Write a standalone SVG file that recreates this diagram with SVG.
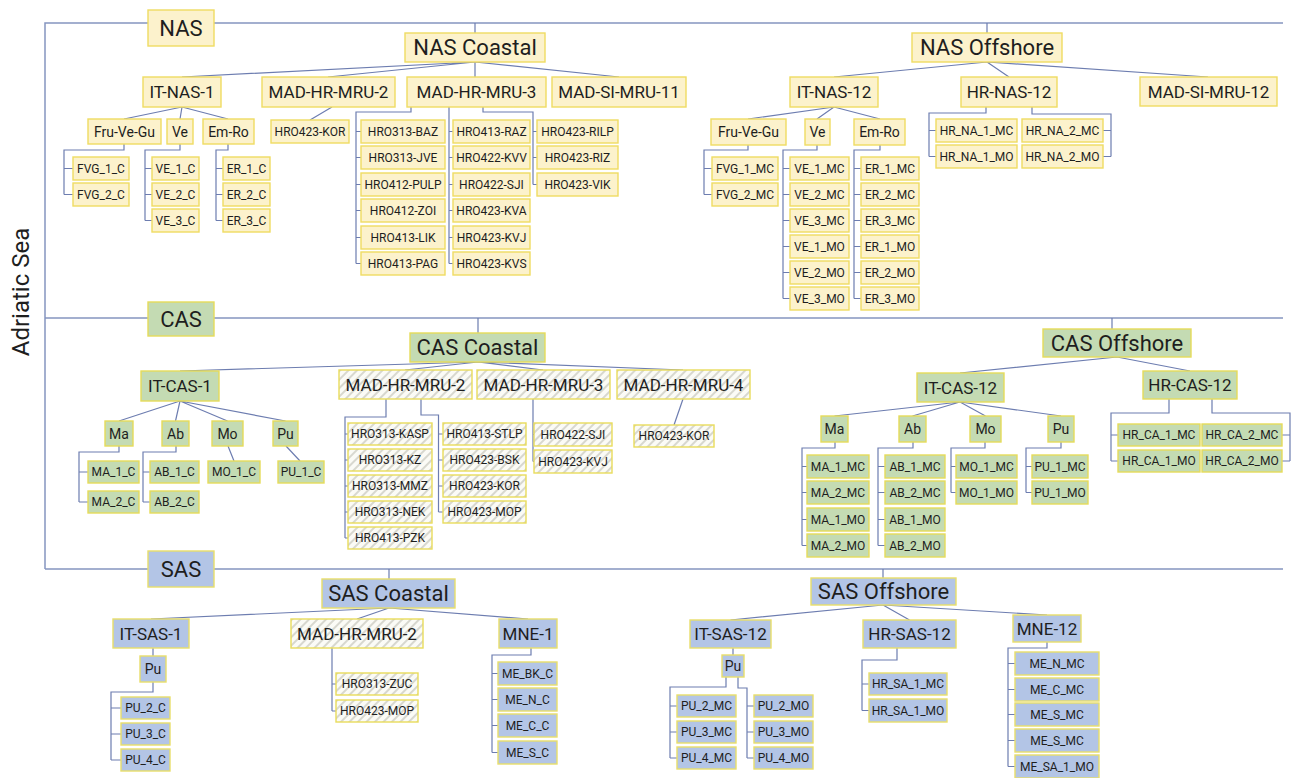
<svg xmlns="http://www.w3.org/2000/svg" width="1293" height="778" viewBox="0 0 1293 778">
<style>
svg.n{overflow:visible}
.y{fill:#fcf2cc;stroke:#efdc62;stroke-width:1.4}
.g{fill:#c4dbb3;stroke:#e6dc5a;stroke-width:1.4}
.b{fill:#b3c5e6;stroke:#e8de6a;stroke-width:1.4}
.h{fill:url(#hatch);stroke:#e8dc5c;stroke-width:1.4}
text{font-family:Roboto,"Liberation Sans",sans-serif;fill:#1e1e1e;text-anchor:middle;dominant-baseline:central}
.t1{font-size:22px}.t2{font-size:17px}.t3{font-size:14px}.t4{font-size:12px}
.c{fill:none;stroke:#6d7db0;stroke-width:1.2}
.f{fill:none;stroke:#8595c0;stroke-width:1.5}
</style>
<defs>
<pattern id="hatch" width="6" height="6" patternUnits="userSpaceOnUse" patternTransform="rotate(45)"><rect width="6" height="6" fill="#fbfbf6"/><line x1="1" y1="0" x2="1" y2="6" stroke="#cfcfc6" stroke-width="1.6"/></pattern>
</defs>
<rect width="1293" height="778" fill="#fff"/>
<text x="21" y="292" transform="rotate(-90 21 292)" style="font-size:24px">Adriatic Sea</text>
<g id="connectors">
<path class="f" d="M45,569 V23 H1283 M45,318 H1283 M45,569 H1283"/>
<path class="c" d="M475,23 V33 M987,23 V33 M478,318 V333 M1112,318 V329 M389,569 V579 M883,569 V578"/>
<path class="c" d="M475,62 L182,77 M475,62 L328,77 M475,62 V77 M475,62 L619,77"/>
<path class="c" d="M182,107 L124,119 M182,107 L180,119 M182,107 L228,119"/>
<path class="c" d="M124,144 V150 H64 V194.5 M64,168.5 H73 M64,194.5 H73"/>
<path class="c" d="M180,144 V150 H145 V220.5 M145,168.5 H152 M145,194.5 H152 M145,220.5 H152"/>
<path class="c" d="M228,144 V150 H216 V220.5 M216,168.5 H223 M216,194.5 H223 M216,220.5 H223"/>
<path class="c" d="M332,107 L310,120"/>
<path class="c" d="M411,107 V112 H356 V263.5 M356,131.5 H361 M356,157.5 H361 M356,184.5 H361 M356,210.5 H361 M356,237.5 H361 M356,263.5 H361"/>
<path class="c" d="M449,107 V263.5 M449,131.5 H453 M449,157.5 H453 M449,184.5 H453 M449,210.5 H453 M449,237.5 H453 M449,263.5 H453"/>
<path class="c" d="M483,107 V112 H533 V184.5 M533,131.5 H537 M533,157.5 H537 M533,184.5 H537"/>
<path class="c" d="M987,62 L834,77 M987,62 L1009,77 M987,62 L1208,77"/>
<path class="c" d="M834,107 L748,119 M834,107 L817,119 M834,107 L880,119"/>
<path class="c" d="M748,145 V150 H704 V194.5 M704,168.5 H712 M704,194.5 H712"/>
<path class="c" d="M817,145 V150 H783 V298.5 M783,168.5 H790 M783,194.5 H790 M783,220.5 H790 M783,246.5 H790 M783,272.5 H790 M783,298.5 H790"/>
<path class="c" d="M880,145 V150 H854 V298.5 M854,168.5 H861 M854,194.5 H861 M854,220.5 H861 M854,246.5 H861 M854,272.5 H861 M854,298.5 H861"/>
<path class="c" d="M986,107 V113 H929 V156.5 M929,130.5 H936 M929,156.5 H936"/>
<path class="c" d="M1032,107 V114 H1111 V156.5 M1103,130.5 H1111 M1103,156.5 H1111"/>
<path class="c" d="M478,362 L180,371 M478,362 L405,370 M478,362 L543,370 M478,362 L683,370"/>
<path class="c" d="M180,401 L119,421 M180,401 L175.5,421 M180,401 L227.5,421 M180,401 L285.5,421"/>
<path class="c" d="M119,446 V452 H79 V502 M79,472 H88 M79,502 H88"/>
<path class="c" d="M176,446 V452 H143 V502 M143,472 H150 M143,502 H150"/>
<path class="c" d="M228,446 L234,461 M286,446 L300,461"/>
<path class="c" d="M386,399 V417 H345 V538 M345,434 H348 M345,460 H348 M345,486 H348 M345,512 H348 M345,538 H348"/>
<path class="c" d="M421,399 V415 H438.5 V512 M438.5,434 H443 M438.5,460 H443 M438.5,486 H443 M438.5,512 H443"/>
<path class="c" d="M533,399 V461.5 M533,434.5 H534 M533,461.5 H534"/>
<path class="c" d="M683,399 L674,425"/>
<path class="c" d="M1117,357 L960,373 M1117,357 L1190,371"/>
<path class="c" d="M960,402 L834.5,416 M960,402 L912.5,416 M960,402 L985.5,416 M960,402 L1061,416"/>
<path class="c" d="M835,442 V448 H802 V545.5 M802,466.5 H807 M802,492.5 H807 M802,519.5 H807 M802,545.5 H807"/>
<path class="c" d="M913,442 V448 H878 V545.5 M878,466.5 H885 M878,492.5 H885 M878,519.5 H885 M878,545.5 H885"/>
<path class="c" d="M985,442 V448 H951 V492.5 M951,466.5 H956 M951,492.5 H956"/>
<path class="c" d="M1061,442 V448 H1026 V492.5 M1026,466.5 H1032 M1026,492.5 H1032"/>
<path class="c" d="M1169,399 V413 H1111 V461 M1111,435 H1118 M1111,461 H1118"/>
<path class="c" d="M1212,399 V413 H1290 V461 M1282,435 H1290 M1282,461 H1290"/>
<path class="c" d="M389,608 L151,619 M389,608 L357,619 M389,608 L528,619"/>
<path class="c" d="M153,648 V656"/>
<path class="c" d="M153,682 V692 H111 V760 M111,708 H121 M111,734 H121 M111,760 H121"/>
<path class="c" d="M332,648 V711 M332,684 H336 M332,711 H336"/>
<path class="c" d="M531,648 V655 H492 V752.5 M492,673.5 H498 M492,699.5 H498 M492,725.5 H498 M492,752.5 H498"/>
<path class="c" d="M883,605 L730.5,620 M883,605 L909.5,620 M883,605 L1047,615"/>
<path class="c" d="M733,648 V655"/>
<path class="c" d="M726,677 V687 H670 V758 M670,706 H677 M670,732 H677 M670,758 H677"/>
<path class="c" d="M738,677 V688 H747 V758 M747,706 H754 M747,732 H754 M747,758 H754"/>
<path class="c" d="M897,648 V660 H862 V710.5 M862,684 H869 M862,710.5 H869"/>
<path class="c" d="M1047,642 V648 H1008 V766.5 M1008,663.5 H1015 M1008,689.5 H1015 M1008,714.5 H1015 M1008,740.5 H1015 M1008,766.5 H1015"/>
</g>

<g id="nas"><svg class="n" x="148" y="10" width="66" height="36"><rect class="y" width="100%" height="100%"/><text class="t1" x="50%" y="50%">NAS</text></svg></g>
<g id="nas-coastal"><svg class="n" x="405" y="33" width="140" height="29"><rect class="y" width="100%" height="100%"/><text class="t1" x="50%" y="50%">NAS Coastal</text></svg></g>
<g id="nas-offshore"><svg class="n" x="912" y="33" width="150" height="29"><rect class="y" width="100%" height="100%"/><text class="t1" x="50%" y="50%">NAS Offshore</text></svg></g>
<g id="it-nas-1"><svg class="n" x="143" y="77" width="78" height="30"><rect class="y" width="100%" height="100%"/><text class="t2" x="50%" y="50%">IT-NAS-1</text></svg></g>
<g id="nas-mad-hr-mru-2"><svg class="n" x="262" y="77" width="133" height="30"><rect class="y" width="100%" height="100%"/><text class="t2" x="50%" y="50%">MAD-HR-MRU-2</text></svg></g>
<g id="nas-mad-hr-mru-3"><svg class="n" x="407" y="77" width="139" height="30"><rect class="y" width="100%" height="100%"/><text class="t2" x="50%" y="50%">MAD-HR-MRU-3</text></svg></g>
<g id="nas-mad-si-mru-11"><svg class="n" x="552" y="77" width="134" height="30"><rect class="y" width="100%" height="100%"/><text class="t2" x="50%" y="50%">MAD-SI-MRU-11</text></svg></g>
<g id="nas1-fvg"><svg class="n" x="88" y="119" width="73" height="25"><rect class="y" width="100%" height="100%"/><text class="t3" x="50%" y="50%">Fru-Ve-Gu</text></svg></g>
<g id="nas1-ve"><svg class="n" x="167" y="119" width="26" height="25"><rect class="y" width="100%" height="100%"/><text class="t3" x="50%" y="50%">Ve</text></svg></g>
<g id="nas1-er"><svg class="n" x="203" y="119" width="51" height="25"><rect class="y" width="100%" height="100%"/><text class="t3" x="50%" y="50%">Em-Ro</text></svg></g>
<g id="fvg-1-c"><svg class="n" x="73" y="157" width="56" height="23"><rect class="y" width="100%" height="100%"/><text class="t4" x="50%" y="50%">FVG_1_C</text></svg></g>
<g id="fvg-2-c"><svg class="n" x="73" y="183" width="56" height="23"><rect class="y" width="100%" height="100%"/><text class="t4" x="50%" y="50%">FVG_2_C</text></svg></g>
<g id="ve-1-c"><svg class="n" x="152" y="157" width="47" height="23"><rect class="y" width="100%" height="100%"/><text class="t4" x="50%" y="50%">VE_1_C</text></svg></g>
<g id="ve-2-c"><svg class="n" x="152" y="183" width="47" height="23"><rect class="y" width="100%" height="100%"/><text class="t4" x="50%" y="50%">VE_2_C</text></svg></g>
<g id="ve-3-c"><svg class="n" x="152" y="209" width="47" height="23"><rect class="y" width="100%" height="100%"/><text class="t4" x="50%" y="50%">VE_3_C</text></svg></g>
<g id="er-1-c"><svg class="n" x="223" y="157" width="47" height="23"><rect class="y" width="100%" height="100%"/><text class="t4" x="50%" y="50%">ER_1_C</text></svg></g>
<g id="er-2-c"><svg class="n" x="223" y="183" width="47" height="23"><rect class="y" width="100%" height="100%"/><text class="t4" x="50%" y="50%">ER_2_C</text></svg></g>
<g id="er-3-c"><svg class="n" x="223" y="209" width="47" height="23"><rect class="y" width="100%" height="100%"/><text class="t4" x="50%" y="50%">ER_3_C</text></svg></g>
<g id="nas-hr0423-kor"><svg class="n" x="271" y="120" width="78" height="23"><rect class="y" width="100%" height="100%"/><text class="t4" x="50%" y="50%">HRO423-KOR</text></svg></g>
<g id="hr0313-baz"><svg class="n" x="361" y="120" width="84" height="23"><rect class="y" width="100%" height="100%"/><text class="t4" x="50%" y="50%">HRO313-BAZ</text></svg></g>
<g id="hr0313-jve"><svg class="n" x="361" y="146" width="84" height="23"><rect class="y" width="100%" height="100%"/><text class="t4" x="50%" y="50%">HRO313-JVE</text></svg></g>
<g id="hr0412-pulp"><svg class="n" x="361" y="173" width="84" height="23"><rect class="y" width="100%" height="100%"/><text class="t4" x="50%" y="50%">HRO412-PULP</text></svg></g>
<g id="hr0412-zoi"><svg class="n" x="361" y="199" width="84" height="23"><rect class="y" width="100%" height="100%"/><text class="t4" x="50%" y="50%">HRO412-ZOI</text></svg></g>
<g id="hr0413-lik"><svg class="n" x="361" y="226" width="84" height="23"><rect class="y" width="100%" height="100%"/><text class="t4" x="50%" y="50%">HRO413-LIK</text></svg></g>
<g id="hr0413-pag"><svg class="n" x="361" y="252" width="84" height="23"><rect class="y" width="100%" height="100%"/><text class="t4" x="50%" y="50%">HRO413-PAG</text></svg></g>
<g id="hr0413-raz"><svg class="n" x="453" y="120" width="77" height="23"><rect class="y" width="100%" height="100%"/><text class="t4" x="50%" y="50%">HRO413-RAZ</text></svg></g>
<g id="hr0422-kvv"><svg class="n" x="453" y="146" width="77" height="23"><rect class="y" width="100%" height="100%"/><text class="t4" x="50%" y="50%">HRO422-KVV</text></svg></g>
<g id="hr0422-sji"><svg class="n" x="453" y="173" width="77" height="23"><rect class="y" width="100%" height="100%"/><text class="t4" x="50%" y="50%">HRO422-SJI</text></svg></g>
<g id="hr0423-kva"><svg class="n" x="453" y="199" width="77" height="23"><rect class="y" width="100%" height="100%"/><text class="t4" x="50%" y="50%">HRO423-KVA</text></svg></g>
<g id="hr0423-kvj"><svg class="n" x="453" y="226" width="77" height="23"><rect class="y" width="100%" height="100%"/><text class="t4" x="50%" y="50%">HRO423-KVJ</text></svg></g>
<g id="hr0423-kvs"><svg class="n" x="453" y="252" width="77" height="23"><rect class="y" width="100%" height="100%"/><text class="t4" x="50%" y="50%">HRO423-KVS</text></svg></g>
<g id="hr0423-rilp"><svg class="n" x="537" y="120" width="81" height="23"><rect class="y" width="100%" height="100%"/><text class="t4" x="50%" y="50%">HRO423-RILP</text></svg></g>
<g id="hr0423-riz"><svg class="n" x="537" y="146" width="81" height="23"><rect class="y" width="100%" height="100%"/><text class="t4" x="50%" y="50%">HRO423-RIZ</text></svg></g>
<g id="hr0423-vik"><svg class="n" x="537" y="173" width="81" height="23"><rect class="y" width="100%" height="100%"/><text class="t4" x="50%" y="50%">HRO423-VIK</text></svg></g>
<g id="it-nas-12"><svg class="n" x="790" y="77" width="88" height="30"><rect class="y" width="100%" height="100%"/><text class="t2" x="50%" y="50%">IT-NAS-12</text></svg></g>
<g id="hr-nas-12"><svg class="n" x="961" y="77" width="96" height="30"><rect class="y" width="100%" height="100%"/><text class="t2" x="50%" y="50%">HR-NAS-12</text></svg></g>
<g id="mad-si-mru-12"><svg class="n" x="1140" y="77" width="137" height="29"><rect class="y" width="100%" height="100%"/><text class="t2" x="50%" y="50%">MAD-SI-MRU-12</text></svg></g>
<g id="nas12-fvg"><svg class="n" x="711" y="119" width="75" height="26"><rect class="y" width="100%" height="100%"/><text class="t3" x="50%" y="50%">Fru-Ve-Gu</text></svg></g>
<g id="nas12-ve"><svg class="n" x="805" y="119" width="25" height="26"><rect class="y" width="100%" height="100%"/><text class="t3" x="50%" y="50%">Ve</text></svg></g>
<g id="nas12-er"><svg class="n" x="854" y="119" width="51" height="26"><rect class="y" width="100%" height="100%"/><text class="t3" x="50%" y="50%">Em-Ro</text></svg></g>
<g id="fvg-1-mc"><svg class="n" x="712" y="157" width="66" height="23"><rect class="y" width="100%" height="100%"/><text class="t4" x="50%" y="50%">FVG_1_MC</text></svg></g>
<g id="fvg-2-mc"><svg class="n" x="712" y="183" width="66" height="23"><rect class="y" width="100%" height="100%"/><text class="t4" x="50%" y="50%">FVG_2_MC</text></svg></g>
<g id="ve-1-mc"><svg class="n" x="790" y="157" width="59" height="23"><rect class="y" width="100%" height="100%"/><text class="t4" x="50%" y="50%">VE_1_MC</text></svg></g>
<g id="ve-2-mc"><svg class="n" x="790" y="183" width="59" height="23"><rect class="y" width="100%" height="100%"/><text class="t4" x="50%" y="50%">VE_2_MC</text></svg></g>
<g id="ve-3-mc"><svg class="n" x="790" y="209" width="59" height="23"><rect class="y" width="100%" height="100%"/><text class="t4" x="50%" y="50%">VE_3_MC</text></svg></g>
<g id="ve-1-mo"><svg class="n" x="790" y="235" width="59" height="23"><rect class="y" width="100%" height="100%"/><text class="t4" x="50%" y="50%">VE_1_MO</text></svg></g>
<g id="ve-2-mo"><svg class="n" x="790" y="261" width="59" height="23"><rect class="y" width="100%" height="100%"/><text class="t4" x="50%" y="50%">VE_2_MO</text></svg></g>
<g id="ve-3-mo"><svg class="n" x="790" y="287" width="59" height="23"><rect class="y" width="100%" height="100%"/><text class="t4" x="50%" y="50%">VE_3_MO</text></svg></g>
<g id="er-1-mc"><svg class="n" x="861" y="157" width="58" height="23"><rect class="y" width="100%" height="100%"/><text class="t4" x="50%" y="50%">ER_1_MC</text></svg></g>
<g id="er-2-mc"><svg class="n" x="861" y="183" width="58" height="23"><rect class="y" width="100%" height="100%"/><text class="t4" x="50%" y="50%">ER_2_MC</text></svg></g>
<g id="er-3-mc"><svg class="n" x="861" y="209" width="58" height="23"><rect class="y" width="100%" height="100%"/><text class="t4" x="50%" y="50%">ER_3_MC</text></svg></g>
<g id="er-1-mo"><svg class="n" x="861" y="235" width="58" height="23"><rect class="y" width="100%" height="100%"/><text class="t4" x="50%" y="50%">ER_1_MO</text></svg></g>
<g id="er-2-mo"><svg class="n" x="861" y="261" width="58" height="23"><rect class="y" width="100%" height="100%"/><text class="t4" x="50%" y="50%">ER_2_MO</text></svg></g>
<g id="er-3-mo"><svg class="n" x="861" y="287" width="58" height="23"><rect class="y" width="100%" height="100%"/><text class="t4" x="50%" y="50%">ER_3_MO</text></svg></g>
<g id="hr-na-1-mc"><svg class="n" x="936" y="119" width="81" height="23"><rect class="y" width="100%" height="100%"/><text class="t4" x="50%" y="50%">HR_NA_1_MC</text></svg></g>
<g id="hr-na-1-mo"><svg class="n" x="936" y="145" width="81" height="23"><rect class="y" width="100%" height="100%"/><text class="t4" x="50%" y="50%">HR_NA_1_MO</text></svg></g>
<g id="hr-na-2-mc"><svg class="n" x="1022" y="119" width="81" height="23"><rect class="y" width="100%" height="100%"/><text class="t4" x="50%" y="50%">HR_NA_2_MC</text></svg></g>
<g id="hr-na-2-mo"><svg class="n" x="1022" y="145" width="81" height="23"><rect class="y" width="100%" height="100%"/><text class="t4" x="50%" y="50%">HR_NA_2_MO</text></svg></g>

<g id="cas"><svg class="n" x="148" y="302" width="66" height="34"><rect class="g" width="100%" height="100%"/><text class="t1" x="50%" y="50%">CAS</text></svg></g>
<g id="cas-coastal"><svg class="n" x="410" y="333" width="135" height="29"><rect class="g" width="100%" height="100%"/><text class="t1" x="50%" y="50%">CAS Coastal</text></svg></g>
<g id="cas-offshore"><svg class="n" x="1043" y="329" width="148" height="28"><rect class="g" width="100%" height="100%"/><text class="t1" x="50%" y="50%">CAS Offshore</text></svg></g>
<g id="it-cas-1"><svg class="n" x="141" y="371" width="78" height="30"><rect class="g" width="100%" height="100%"/><text class="t2" x="50%" y="50%">IT-CAS-1</text></svg></g>
<g id="cas-mad-hr-mru-2"><svg class="n" x="339" y="370" width="133" height="29"><rect class="h" width="100%" height="100%"/><text class="t2" x="50%" y="50%">MAD-HR-MRU-2</text></svg></g>
<g id="cas-mad-hr-mru-3"><svg class="n" x="477" y="370" width="133" height="29"><rect class="h" width="100%" height="100%"/><text class="t2" x="50%" y="50%">MAD-HR-MRU-3</text></svg></g>
<g id="cas-mad-hr-mru-4"><svg class="n" x="617" y="370" width="133" height="29"><rect class="h" width="100%" height="100%"/><text class="t2" x="50%" y="50%">MAD-HR-MRU-4</text></svg></g>
<g id="cas1-ma"><svg class="n" x="105" y="421" width="28" height="25"><rect class="g" width="100%" height="100%"/><text class="t3" x="50%" y="50%">Ma</text></svg></g>
<g id="cas1-ab"><svg class="n" x="162" y="421" width="27" height="25"><rect class="g" width="100%" height="100%"/><text class="t3" x="50%" y="50%">Ab</text></svg></g>
<g id="cas1-mo"><svg class="n" x="212" y="421" width="31" height="25"><rect class="g" width="100%" height="100%"/><text class="t3" x="50%" y="50%">Mo</text></svg></g>
<g id="cas1-pu"><svg class="n" x="273" y="421" width="25" height="25"><rect class="g" width="100%" height="100%"/><text class="t3" x="50%" y="50%">Pu</text></svg></g>
<g id="ma-1-c"><svg class="n" x="88" y="461" width="51" height="22"><rect class="g" width="100%" height="100%"/><text class="t4" x="50%" y="50%">MA_1_C</text></svg></g>
<g id="ma-2-c"><svg class="n" x="88" y="491" width="51" height="22"><rect class="g" width="100%" height="100%"/><text class="t4" x="50%" y="50%">MA_2_C</text></svg></g>
<g id="ab-1-c"><svg class="n" x="150" y="461" width="49" height="22"><rect class="g" width="100%" height="100%"/><text class="t4" x="50%" y="50%">AB_1_C</text></svg></g>
<g id="ab-2-c"><svg class="n" x="150" y="491" width="49" height="22"><rect class="g" width="100%" height="100%"/><text class="t4" x="50%" y="50%">AB_2_C</text></svg></g>
<g id="mo-1-c"><svg class="n" x="208" y="461" width="52" height="22"><rect class="g" width="100%" height="100%"/><text class="t4" x="50%" y="50%">MO_1_C</text></svg></g>
<g id="pu-1-c"><svg class="n" x="278" y="461" width="46" height="22"><rect class="g" width="100%" height="100%"/><text class="t4" x="50%" y="50%">PU_1_C</text></svg></g>
<g id="hr0313-kasp"><svg class="n" x="348" y="423" width="84" height="22"><rect class="h" width="100%" height="100%"/><text class="t4" x="50%" y="50%">HRO313-KASP</text></svg></g>
<g id="hr0313-kz"><svg class="n" x="348" y="449" width="84" height="22"><rect class="h" width="100%" height="100%"/><text class="t4" x="50%" y="50%">HRO313-KZ</text></svg></g>
<g id="hr0313-mmz"><svg class="n" x="348" y="475" width="84" height="22"><rect class="h" width="100%" height="100%"/><text class="t4" x="50%" y="50%">HRO313-MMZ</text></svg></g>
<g id="hr0313-nek"><svg class="n" x="348" y="501" width="84" height="22"><rect class="h" width="100%" height="100%"/><text class="t4" x="50%" y="50%">HRO313-NEK</text></svg></g>
<g id="hr0413-pzk"><svg class="n" x="348" y="527" width="84" height="22"><rect class="h" width="100%" height="100%"/><text class="t4" x="50%" y="50%">HRO413-PZK</text></svg></g>
<g id="hr0413-stlp"><svg class="n" x="443" y="423" width="83" height="22"><rect class="h" width="100%" height="100%"/><text class="t4" x="50%" y="50%">HRO413-STLP</text></svg></g>
<g id="hr0423-bsk"><svg class="n" x="443" y="449" width="83" height="22"><rect class="h" width="100%" height="100%"/><text class="t4" x="50%" y="50%">HRO423-BSK</text></svg></g>
<g id="cas-hr0423-kor-a"><svg class="n" x="443" y="475" width="83" height="22"><rect class="h" width="100%" height="100%"/><text class="t4" x="50%" y="50%">HRO423-KOR</text></svg></g>
<g id="cas-hr0423-mop"><svg class="n" x="443" y="501" width="83" height="22"><rect class="h" width="100%" height="100%"/><text class="t4" x="50%" y="50%">HRO423-MOP</text></svg></g>
<g id="cas-hr0422-sji"><svg class="n" x="534" y="423" width="78" height="23"><rect class="h" width="100%" height="100%"/><text class="t4" x="50%" y="50%">HRO422-SJI</text></svg></g>
<g id="cas-hr0423-kvj"><svg class="n" x="534" y="450" width="78" height="23"><rect class="h" width="100%" height="100%"/><text class="t4" x="50%" y="50%">HRO423-KVJ</text></svg></g>
<g id="cas-hr0423-kor-b"><svg class="n" x="634" y="425" width="80" height="22"><rect class="h" width="100%" height="100%"/><text class="t4" x="50%" y="50%">HRO423-KOR</text></svg></g>
<g id="it-cas-12"><svg class="n" x="917" y="373" width="87" height="29"><rect class="g" width="100%" height="100%"/><text class="t2" x="50%" y="50%">IT-CAS-12</text></svg></g>
<g id="hr-cas-12"><svg class="n" x="1143" y="371" width="94" height="28"><rect class="g" width="100%" height="100%"/><text class="t2" x="50%" y="50%">HR-CAS-12</text></svg></g>
<g id="cas12-ma"><svg class="n" x="821" y="416" width="27" height="26"><rect class="g" width="100%" height="100%"/><text class="t3" x="50%" y="50%">Ma</text></svg></g>
<g id="cas12-ab"><svg class="n" x="899" y="416" width="27" height="26"><rect class="g" width="100%" height="100%"/><text class="t3" x="50%" y="50%">Ab</text></svg></g>
<g id="cas12-mo"><svg class="n" x="970" y="416" width="31" height="26"><rect class="g" width="100%" height="100%"/><text class="t3" x="50%" y="50%">Mo</text></svg></g>
<g id="cas12-pu"><svg class="n" x="1048" y="416" width="26" height="26"><rect class="g" width="100%" height="100%"/><text class="t3" x="50%" y="50%">Pu</text></svg></g>
<g id="ma-1-mc"><svg class="n" x="807" y="455" width="62" height="23"><rect class="g" width="100%" height="100%"/><text class="t4" x="50%" y="50%">MA_1_MC</text></svg></g>
<g id="ma-2-mc"><svg class="n" x="807" y="481" width="62" height="23"><rect class="g" width="100%" height="100%"/><text class="t4" x="50%" y="50%">MA_2_MC</text></svg></g>
<g id="ma-1-mo"><svg class="n" x="807" y="508" width="62" height="23"><rect class="g" width="100%" height="100%"/><text class="t4" x="50%" y="50%">MA_1_MO</text></svg></g>
<g id="ma-2-mo"><svg class="n" x="807" y="534" width="62" height="23"><rect class="g" width="100%" height="100%"/><text class="t4" x="50%" y="50%">MA_2_MO</text></svg></g>
<g id="ab-1-mc"><svg class="n" x="885" y="455" width="60" height="23"><rect class="g" width="100%" height="100%"/><text class="t4" x="50%" y="50%">AB_1_MC</text></svg></g>
<g id="ab-2-mc"><svg class="n" x="885" y="481" width="60" height="23"><rect class="g" width="100%" height="100%"/><text class="t4" x="50%" y="50%">AB_2_MC</text></svg></g>
<g id="ab-1-mo"><svg class="n" x="885" y="508" width="60" height="23"><rect class="g" width="100%" height="100%"/><text class="t4" x="50%" y="50%">AB_1_MO</text></svg></g>
<g id="ab-2-mo"><svg class="n" x="885" y="534" width="60" height="23"><rect class="g" width="100%" height="100%"/><text class="t4" x="50%" y="50%">AB_2_MO</text></svg></g>
<g id="mo-1-mc"><svg class="n" x="956" y="455" width="61" height="23"><rect class="g" width="100%" height="100%"/><text class="t4" x="50%" y="50%">MO_1_MC</text></svg></g>
<g id="mo-1-mo"><svg class="n" x="956" y="481" width="61" height="23"><rect class="g" width="100%" height="100%"/><text class="t4" x="50%" y="50%">MO_1_MO</text></svg></g>
<g id="pu-1-mc"><svg class="n" x="1032" y="455" width="56" height="23"><rect class="g" width="100%" height="100%"/><text class="t4" x="50%" y="50%">PU_1_MC</text></svg></g>
<g id="pu-1-mo"><svg class="n" x="1032" y="481" width="56" height="23"><rect class="g" width="100%" height="100%"/><text class="t4" x="50%" y="50%">PU_1_MO</text></svg></g>
<g id="hr-ca-1-mc"><svg class="n" x="1118" y="424" width="82" height="22"><rect class="g" width="100%" height="100%"/><text class="t4" x="50%" y="50%">HR_CA_1_MC</text></svg></g>
<g id="hr-ca-1-mo"><svg class="n" x="1118" y="450" width="82" height="22"><rect class="g" width="100%" height="100%"/><text class="t4" x="50%" y="50%">HR_CA_1_MO</text></svg></g>
<g id="hr-ca-2-mc"><svg class="n" x="1202" y="424" width="80" height="22"><rect class="g" width="100%" height="100%"/><text class="t4" x="50%" y="50%">HR_CA_2_MC</text></svg></g>
<g id="hr-ca-2-mo"><svg class="n" x="1202" y="450" width="80" height="22"><rect class="g" width="100%" height="100%"/><text class="t4" x="50%" y="50%">HR_CA_2_MO</text></svg></g>

<g id="sas"><svg class="n" x="148" y="551" width="66" height="36"><rect class="b" width="100%" height="100%"/><text class="t1" x="50%" y="50%">SAS</text></svg></g>
<g id="sas-coastal"><svg class="n" x="322" y="579" width="133" height="29"><rect class="b" width="100%" height="100%"/><text class="t1" x="50%" y="50%">SAS Coastal</text></svg></g>
<g id="sas-offshore"><svg class="n" x="811" y="578" width="145" height="27"><rect class="b" width="100%" height="100%"/><text class="t1" x="50%" y="50%">SAS Offshore</text></svg></g>
<g id="it-sas-1"><svg class="n" x="113" y="619" width="76" height="29"><rect class="b" width="100%" height="100%"/><text class="t2" x="50%" y="50%">IT-SAS-1</text></svg></g>
<g id="sas-mad-hr-mru-2"><svg class="n" x="291" y="619" width="132" height="29"><rect class="h" width="100%" height="100%"/><text class="t2" x="50%" y="50%">MAD-HR-MRU-2</text></svg></g>
<g id="mne-1"><svg class="n" x="499" y="619" width="58" height="29"><rect class="b" width="100%" height="100%"/><text class="t2" x="50%" y="50%">MNE-1</text></svg></g>
<g id="sas1-pu"><svg class="n" x="140" y="656" width="26" height="26"><rect class="b" width="100%" height="100%"/><text class="t3" x="50%" y="50%">Pu</text></svg></g>
<g id="pu-2-c"><svg class="n" x="121" y="697" width="49" height="22"><rect class="b" width="100%" height="100%"/><text class="t4" x="50%" y="50%">PU_2_C</text></svg></g>
<g id="pu-3-c"><svg class="n" x="121" y="723" width="49" height="22"><rect class="b" width="100%" height="100%"/><text class="t4" x="50%" y="50%">PU_3_C</text></svg></g>
<g id="pu-4-c"><svg class="n" x="121" y="749" width="49" height="22"><rect class="b" width="100%" height="100%"/><text class="t4" x="50%" y="50%">PU_4_C</text></svg></g>
<g id="hr0313-zuc"><svg class="n" x="336" y="673" width="82" height="22"><rect class="h" width="100%" height="100%"/><text class="t4" x="50%" y="50%">HRO313-ZUC</text></svg></g>
<g id="sas-hr0423-mop"><svg class="n" x="336" y="700" width="82" height="22"><rect class="h" width="100%" height="100%"/><text class="t4" x="50%" y="50%">HRO423-MOP</text></svg></g>
<g id="me-bk-c"><svg class="n" x="498" y="662" width="59" height="23"><rect class="b" width="100%" height="100%"/><text class="t4" x="50%" y="50%">ME_BK_C</text></svg></g>
<g id="me-n-c"><svg class="n" x="498" y="688" width="59" height="23"><rect class="b" width="100%" height="100%"/><text class="t4" x="50%" y="50%">ME_N_C</text></svg></g>
<g id="me-c-c"><svg class="n" x="498" y="714" width="59" height="23"><rect class="b" width="100%" height="100%"/><text class="t4" x="50%" y="50%">ME_C_C</text></svg></g>
<g id="me-s-c"><svg class="n" x="498" y="741" width="59" height="23"><rect class="b" width="100%" height="100%"/><text class="t4" x="50%" y="50%">ME_S_C</text></svg></g>
<g id="it-sas-12"><svg class="n" x="690" y="620" width="81" height="28"><rect class="b" width="100%" height="100%"/><text class="t2" x="50%" y="50%">IT-SAS-12</text></svg></g>
<g id="hr-sas-12"><svg class="n" x="863" y="620" width="93" height="28"><rect class="b" width="100%" height="100%"/><text class="t2" x="50%" y="50%">HR-SAS-12</text></svg></g>
<g id="mne-12"><svg class="n" x="1013" y="615" width="68" height="27"><rect class="b" width="100%" height="100%"/><text class="t2" x="50%" y="50%">MNE-12</text></svg></g>
<g id="sas12-pu"><svg class="n" x="722" y="655" width="22" height="22"><rect class="b" width="100%" height="100%"/><text class="t3" x="50%" y="50%">Pu</text></svg></g>
<g id="pu-2-mc"><svg class="n" x="677" y="695" width="59" height="22"><rect class="b" width="100%" height="100%"/><text class="t4" x="50%" y="50%">PU_2_MC</text></svg></g>
<g id="pu-3-mc"><svg class="n" x="677" y="721" width="59" height="22"><rect class="b" width="100%" height="100%"/><text class="t4" x="50%" y="50%">PU_3_MC</text></svg></g>
<g id="pu-4-mc"><svg class="n" x="677" y="747" width="59" height="22"><rect class="b" width="100%" height="100%"/><text class="t4" x="50%" y="50%">PU_4_MC</text></svg></g>
<g id="pu-2-mo"><svg class="n" x="754" y="695" width="59" height="22"><rect class="b" width="100%" height="100%"/><text class="t4" x="50%" y="50%">PU_2_MO</text></svg></g>
<g id="pu-3-mo"><svg class="n" x="754" y="721" width="59" height="22"><rect class="b" width="100%" height="100%"/><text class="t4" x="50%" y="50%">PU_3_MO</text></svg></g>
<g id="pu-4-mo"><svg class="n" x="754" y="747" width="59" height="22"><rect class="b" width="100%" height="100%"/><text class="t4" x="50%" y="50%">PU_4_MO</text></svg></g>
<g id="hr-sa-1-mc"><svg class="n" x="869" y="673" width="78" height="22"><rect class="b" width="100%" height="100%"/><text class="t4" x="50%" y="50%">HR_SA_1_MC</text></svg></g>
<g id="hr-sa-1-mo"><svg class="n" x="869" y="699" width="78" height="23"><rect class="b" width="100%" height="100%"/><text class="t4" x="50%" y="50%">HR_SA_1_MO</text></svg></g>
<g id="me-n-mc"><svg class="n" x="1015" y="652" width="84" height="23"><rect class="b" width="100%" height="100%"/><text class="t4" x="50%" y="50%">ME_N_MC</text></svg></g>
<g id="me-c-mc"><svg class="n" x="1015" y="678" width="84" height="23"><rect class="b" width="100%" height="100%"/><text class="t4" x="50%" y="50%">ME_C_MC</text></svg></g>
<g id="me-s-mc-a"><svg class="n" x="1015" y="703" width="84" height="23"><rect class="b" width="100%" height="100%"/><text class="t4" x="50%" y="50%">ME_S_MC</text></svg></g>
<g id="me-s-mc-b"><svg class="n" x="1015" y="729" width="84" height="23"><rect class="b" width="100%" height="100%"/><text class="t4" x="50%" y="50%">ME_S_MC</text></svg></g>
<g id="me-sa-1-mo"><svg class="n" x="1015" y="755" width="84" height="23"><rect class="b" width="100%" height="100%"/><text class="t4" x="50%" y="50%">ME_SA_1_MO</text></svg></g>
</svg>
